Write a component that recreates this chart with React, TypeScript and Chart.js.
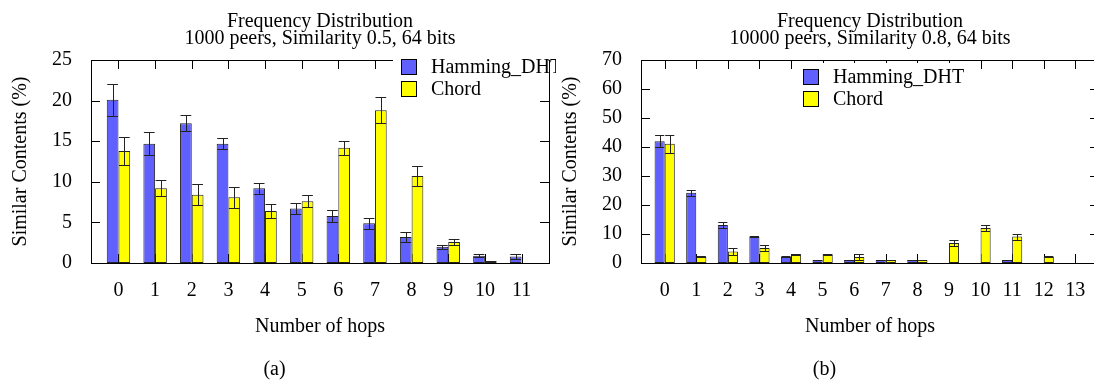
import React, { useEffect, useRef } from 'react';
import { Chart, registerables } from 'chart.js';

Chart.register(...registerables);

const FONT = "'Liberation Serif', 'Times New Roman', Times, serif";

// ---------- data: panel (a) ----------
const hopsA = [0, 1, 2, 3, 4, 5, 6, 7, 8, 9, 10, 11];
const dhtA = [20.1, 14.7, 17.2, 14.7, 9.2, 6.7, 5.8, 4.9, 3.2, 2.0, 0.9, 0.8];
const dhtErrA = [2.0, 1.4, 1.0, 0.7, 0.7, 0.7, 0.7, 0.7, 0.6, 0.25, 0.15, 0.3];
const chordA = [13.8, 9.2, 8.4, 8.1, 6.4, 7.6, 14.2, 18.8, 10.7, 2.6, 0.25, 0];
const chordErrA = [1.7, 1.0, 1.3, 1.3, 0.9, 0.75, 0.85, 1.6, 1.2, 0.35, 0.05, 0];
const titleA = ['Frequency Distribution', '1000 peers, Similarity 0.5, 64 bits'];
const yMaxA = 25;
const yStepA = 5;

// ---------- data: panel (b) ----------
const hopsB = [0, 1, 2, 3, 4, 5, 6, 7, 8, 9, 10, 11, 12, 13];
const dhtB = [42.0, 24.2, 13.1, 9.1, 2.1, 1.0, 1.0, 1.0, 1.0, 0, 0, 1.0, 0, 0];
const dhtErrB = [2.0, 1.0, 1.1, 0.2, 0.2, 0.1, 0.1, 0.1, 0.1, 0, 0, 0.1, 0, 0];
const chordB = [41.1, 2.1, 4.0, 5.2, 3.0, 3.0, 2.1, 1.0, 1.0, 6.9, 12.1, 9.1, 2.1, 0];
const chordErrB = [3.0, 0.2, 1.1, 0.9, 0.2, 0.2, 1.0, 0.1, 0.1, 1.1, 1.1, 1.0, 0.2, 0];
const titleB = ['Frequency Distribution', '10000 peers, Similarity 0.8, 64 bits'];
const yMaxB = 70;
const yStepB = 10;

// ---------- shared labels ----------
const seriesNames = ['Hamming_DHT', 'Chord'];
const seriesColors = ['#6060ff', '#ffff00'];
const xTitle = 'Number of hops';
const yTitle = 'Similar Contents (%)';

const TICK = 9;

const gnuplotPlugin = {
  id: 'gnuLook',
  beforeDatasetsDraw(chart: any) {
    const { ctx, chartArea: a, scales } = chart;
    const x = scales.x;
    const y = scales.y;
    ctx.save();
    ctx.strokeStyle = '#000';
    ctx.lineWidth = 1;
    ctx.beginPath();
    x.ticks.forEach((t: any) => {
      const px = Math.round(x.getPixelForValue(t.value)) + 0.5;
      ctx.moveTo(px, a.top);
      ctx.lineTo(px, a.top + TICK);
      ctx.moveTo(px, a.bottom);
      ctx.lineTo(px, a.bottom - TICK);
    });
    y.ticks.forEach((t: any) => {
      const py = Math.round(y.getPixelForValue(t.value)) + 0.5;
      ctx.moveTo(a.left, py);
      ctx.lineTo(a.left + TICK, py);
      ctx.moveTo(a.right, py);
      ctx.lineTo(a.right - TICK, py);
    });
    ctx.stroke();
    ctx.restore();
  },
  afterDatasetsDraw(chart: any) {
    const { ctx, chartArea: a, scales } = chart;
    const y = scales.y;
    ctx.save();
    ctx.strokeStyle = '#222';
    ctx.lineWidth = 1;
    chart.data.datasets.forEach((ds: any, di: number) => {
      const meta = chart.getDatasetMeta(di);
      const errs: number[] = ds.errors || [];
      meta.data.forEach((el: any, i: number) => {
        const v = ds.data[i];
        const e = errs[i];
        if (!e) return;
        const { x: cx, width: w } = el.getProps(['x', 'width'], true);
        const top = Math.round(y.getPixelForValue(v + e)) + 0.5;
        const bot = Math.round(y.getPixelForValue(Math.max(0, v - e))) + 0.5;
        const c = Math.round(cx) + 0.5;
        const half = w / 2 - 0.5;
        ctx.beginPath();
        ctx.moveTo(c, top);
        ctx.lineTo(c, bot);
        ctx.moveTo(cx - half, top);
        ctx.lineTo(cx + half, top);
        ctx.moveTo(cx - half, bot);
        ctx.lineTo(cx + half, bot);
        ctx.stroke();
      });
    });
    // frame
    ctx.strokeStyle = '#000';
    ctx.strokeRect(
      Math.round(a.left) + 0.5,
      Math.round(a.top) + 0.5,
      Math.round(a.right) - Math.round(a.left),
      Math.round(a.bottom) - Math.round(a.top)
    );
    ctx.restore();
  },
  afterDraw(chart: any, _args: any, opts: any) {
    const { ctx, chartArea: a } = chart;
    const bx = Math.round(a.left + opts.dx);
    const by = Math.round(a.top + opts.dy);
    const rowH = 22;
    const box = 16;
    const ds = chart.data.datasets;
    ctx.save();
    ctx.font = `20px ${FONT}`;
    let tw = 0;
    ds.forEach((d: any) => {
      tw = Math.max(tw, ctx.measureText(d.label).width);
    });
    const bgL = bx - 8;
    const bgT = by - 6;
    const bgR = Math.min(bx + 30 + tw + 4, Math.round(a.right) - 0.5);
    const bgB = by + rowH * (ds.length - 1) + box + 3;
    ctx.fillStyle = '#fff';
    ctx.fillRect(bgL, bgT, bgR - bgL, bgB - bgT);
    ds.forEach((d: any, i: number) => {
      const top = by + i * rowH;
      ctx.fillStyle = d.backgroundColor;
      ctx.fillRect(bx, top, box, box);
      ctx.strokeStyle = '#000';
      ctx.lineWidth = 1;
      ctx.strokeRect(bx + 0.5, top + 0.5, box - 1, box - 1);
      ctx.fillStyle = '#000';
      ctx.textAlign = 'left';
      ctx.textBaseline = 'middle';
      ctx.fillText(d.label, bx + 30, top + box / 2 + 1);
    });
    ctx.restore();
  },
};

type Panel = {
  hops: number[];
  dht: number[];
  dhtErr: number[];
  chord: number[];
  chordErr: number[];
  title: string[];
  caption: string;
  yMax: number;
  yStep: number;
  legendDx: number;
  legendDy: number;
};

function makeConfig(p: Panel): any {
  const font = (lh: number) => ({ family: FONT, size: 20, weight: 'normal' as const, lineHeight: lh });
  return {
    type: 'bar',
    data: {
      labels: p.hops,
      datasets: [
        {
          label: seriesNames[0],
          data: p.dht,
          errors: p.dhtErr,
          backgroundColor: seriesColors[0],
          borderColor: '#222',
          borderWidth: 1,
          borderSkipped: false,
          categoryPercentage: 0.64,
          barPercentage: 1.0,
        },
        {
          label: seriesNames[1],
          data: p.chord,
          errors: p.chordErr,
          backgroundColor: seriesColors[1],
          borderColor: '#222',
          borderWidth: 1,
          borderSkipped: false,
          categoryPercentage: 0.64,
          barPercentage: 1.0,
        },
      ],
    },
    options: {
      animation: false,
      responsive: false,
      devicePixelRatio: 1,
      events: [],
      layout: { padding: { left: 0, right: 7, top: 0, bottom: 0 } },
      scales: {
        x: {
          type: 'linear',
          min: -0.75,
          max: p.hops.length - 0.25,
          offset: false,
          grid: { display: false, offset: false },
          border: { display: false },
          ticks: {
            stepSize: 1,
            includeBounds: false,
            padding: 8,
            color: '#000',
            font: font(1.2),
            maxRotation: 0,
            autoSkip: false,
          },
          title: {
            display: true,
            text: xTitle,
            color: '#000',
            font: font(1),
            padding: { top: 0, bottom: 6 },
          },
          afterFit: (s: any) => {
            s.height = 80;
          },
        },
        y: {
          min: 0,
          max: p.yMax,
          grid: { display: false },
          border: { display: false },
          ticks: {
            stepSize: p.yStep,
            padding: 11,
            color: '#000',
            font: font(1.2),
          },
          title: {
            display: true,
            text: yTitle,
            color: '#000',
            font: font(1),
            padding: { top: 11, bottom: 0 },
          },
          afterFit: (s: any) => {
            s.width = 91;
          },
        },
      },
      plugins: {
        legend: { display: false },
        tooltip: { enabled: false },
        title: {
          display: true,
          text: p.title,
          fullSize: false,
          color: '#000',
          font: font(0.85),
          padding: { top: 13.5, bottom: 12.5 },
        },
        subtitle: {
          display: true,
          text: p.caption,
          position: 'bottom',
          color: '#000',
          font: font(1),
          padding: { top: 17, bottom: 2 },
        },
        gnuLook: { dx: p.legendDx, dy: p.legendDy },
      },
    },
    plugins: [gnuplotPlugin],
  };
}

const panelA: Panel = {
  hops: hopsA,
  dht: dhtA,
  dhtErr: dhtErrA,
  chord: chordA,
  chordErr: chordErrA,
  title: titleA,
  caption: '(a)',
  yMax: yMaxA,
  yStep: yStepA,
  legendDx: 310,
  legendDy: -1,
};

const panelB: Panel = {
  hops: hopsB,
  dht: dhtB,
  dhtErr: dhtErrB,
  chord: chordB,
  chordErr: chordErrB,
  title: titleB,
  caption: '(b)',
  yMax: yMaxB,
  yStep: yStepB,
  legendDx: 162,
  legendDy: 9,
};

function ChartPanel({ panel, left }: { panel: Panel; left: number }) {
  const ref = useRef<HTMLCanvasElement>(null);
  useEffect(() => {
    const chart = new Chart(ref.current as HTMLCanvasElement, makeConfig(panel));
    return () => chart.destroy();
  }, [panel]);
  return (
    <canvas
      ref={ref}
      width={556}
      height={382}
      style={{ position: 'absolute', left, top: 0, width: 556, height: 382 }}
    />
  );
}

export default function App() {
  return (
    <div
      style={{
        position: 'fixed',
        left: 0,
        top: 0,
        width: 1094,
        height: 382,
        overflow: 'hidden',
        background: '#fff',
      }}
    >
      <ChartPanel panel={panelA} left={0} />
      <ChartPanel panel={panelB} left={550} />
    </div>
  );
}
